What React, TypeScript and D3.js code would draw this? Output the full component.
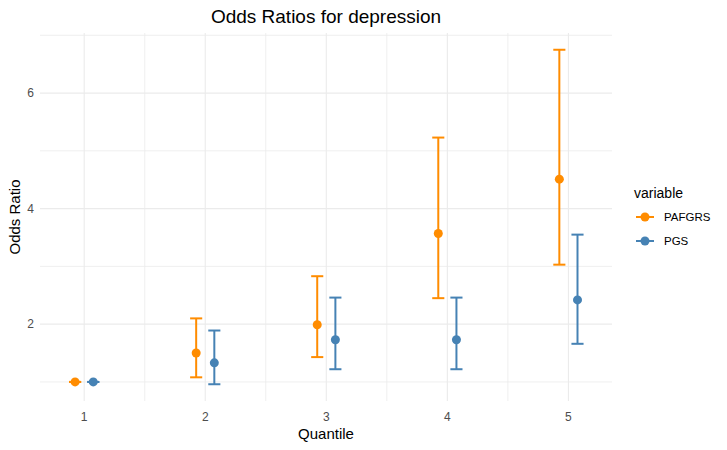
import React, { useEffect } from 'react';
import * as d3 from 'd3';

const quantiles = [1, 2, 3, 4, 5];
const seriesNames = ['PAFGRS', 'PGS'];
const seriesColors = ['#FF8C00', '#4682B4'];

const pafgrsOR = [1.0, 1.5, 1.99, 3.57, 4.51];
const pafgrsLow = [1.0, 1.08, 1.43, 2.45, 3.03];
const pafgrsHigh = [1.0, 2.1, 2.83, 5.23, 6.75];

const pgsOR = [1.0, 1.33, 1.73, 1.73, 2.42];
const pgsLow = [1.0, 0.96, 1.22, 1.22, 1.66];
const pgsHigh = [1.0, 1.89, 2.46, 2.46, 3.55];

const yTicks = [2, 4, 6];
const yMinor = [1, 3, 5, 7];
const xMinor = [1.5, 2.5, 3.5, 4.5];

const App: React.FC = () => {
  useEffect(() => {
    document.body.style.margin = '0';
  }, []);

  const width = 727;
  const height = 450;
  const panel = { left: 40, right: 612, top: 33, bottom: 401 };

  // continuous x with a small dodge between the two series
  const x = d3.scaleLinear().domain([0.635, 5.36]).range([panel.left, panel.right]);
  const y = d3.scaleLinear().domain([0.67, 7.04]).range([panel.bottom, panel.top]);

  const dodge = 0.075;
  const capHalf = 0.05;

  const series = [
    { name: seriesNames[0], color: seriesColors[0], or: pafgrsOR, lo: pafgrsLow, hi: pafgrsHigh, off: -dodge },
    { name: seriesNames[1], color: seriesColors[1], or: pgsOR, lo: pgsLow, hi: pgsHigh, off: dodge },
  ];

  const font = '"Liberation Sans", Arial, sans-serif';
  const grid = '#ebebeb';

  return (
    <svg width={width} height={height} style={{ display: 'block', background: '#fff', fontFamily: font }}>
      {/* minor grid */}
      {yMinor.filter(v => y(v) >= panel.top).map(v => (
        <line key={`ym${v}`} x1={panel.left} x2={panel.right} y1={y(v)} y2={y(v)} stroke={grid} strokeWidth={0.8} />
      ))}
      {xMinor.map(v => (
        <line key={`xm${v}`} x1={x(v)} x2={x(v)} y1={panel.top} y2={panel.bottom} stroke={grid} strokeWidth={0.8} />
      ))}
      {/* major grid */}
      {yTicks.map(v => (
        <line key={`y${v}`} x1={panel.left} x2={panel.right} y1={y(v)} y2={y(v)} stroke={grid} strokeWidth={1.1} />
      ))}
      {quantiles.map(v => (
        <line key={`x${v}`} x1={x(v)} x2={x(v)} y1={panel.top} y2={panel.bottom} stroke={grid} strokeWidth={1.1} />
      ))}

      {/* tick labels */}
      {yTicks.map(v => (
        <text key={`yt${v}`} x={34} y={y(v)} dy="0.35em" textAnchor="end" fontSize={12} fill="#4d4d4d">{v}</text>
      ))}
      {quantiles.map(v => (
        <text key={`xt${v}`} x={x(v)} y={417} dy="0.35em" textAnchor="middle" fontSize={12} fill="#4d4d4d">{v}</text>
      ))}

      {/* axis titles */}
      <text x={(panel.left + panel.right) / 2} y={439} textAnchor="middle" fontSize={15} fill="#000">Quantile</text>
      <text transform={`translate(20,${(panel.top + panel.bottom) / 2}) rotate(-90)`} textAnchor="middle" fontSize={15} fill="#000">Odds Ratio</text>
      <text x={(panel.left + panel.right) / 2} y={23} textAnchor="middle" fontSize={19} fill="#000">Odds Ratios for depression</text>

      {/* error bars and points */}
      {series.map(s => (
        <g key={s.name}>
          {quantiles.map((q, i) => {
            const cx = x(q + s.off);
            const c0 = x(q + s.off - capHalf);
            const c1 = x(q + s.off + capHalf);
            return (
              <g key={q}>
                <line x1={cx} x2={cx} y1={y(s.lo[i])} y2={y(s.hi[i])} stroke={s.color} strokeWidth={2} />
                <line x1={c0} x2={c1} y1={y(s.lo[i])} y2={y(s.lo[i])} stroke={s.color} strokeWidth={2} />
                <line x1={c0} x2={c1} y1={y(s.hi[i])} y2={y(s.hi[i])} stroke={s.color} strokeWidth={2} />
                <circle cx={cx} cy={y(s.or[i])} r={4.5} fill={s.color} />
              </g>
            );
          })}
        </g>
      ))}

      {/* legend */}
      <text x={634} y={198} fontSize={14} fill="#000">variable</text>
      {series.map((s, i) => {
        const ly = 217 + i * 24;
        return (
          <g key={`lg${s.name}`}>
            <line x1={636} x2={654} y1={ly} y2={ly} stroke={s.color} strokeWidth={2} />
            <circle cx={645} cy={ly} r={4.5} fill={s.color} />
            <text x={664} y={ly} dy="0.35em" fontSize={11.5} fill="#000">{s.name}</text>
          </g>
        );
      })}
    </svg>
  );
};

export default App;
